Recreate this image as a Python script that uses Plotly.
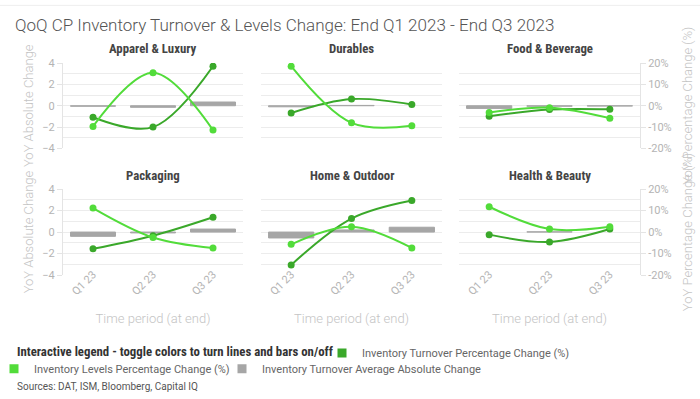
import plotly.graph_objects as go

# ---------------- data ----------------
categories = ["Q1 23", "Q2 23", "Q3 23"]
panels = ["Apparel & Luxury", "Durables", "Food & Beverage",
          "Packaging", "Home & Outdoor", "Health & Beauty"]

# Inventory Turnover Percentage Change (%), one list per panel
turnover_pct = [
    [-5.4, -10.0, 18.5],
    [-3.4, 3.1, 0.6],
    [-4.9, -1.8, -1.7],
    [-7.8, -1.7, 6.9],
    [-15.3, 6.3, 14.7],
    [-1.2, -4.6, 1.4],
]
# Inventory Levels Percentage Change (%)
levels_pct = [
    [-9.7, 15.4, -11.4],
    [18.5, -8.0, -9.4],
    [-3.2, -0.9, -5.8],
    [11.2, -2.5, -7.4],
    [-5.7, 2.5, -7.4],
    [11.8, 1.4, 2.5],
]
# Inventory Turnover Average Absolute Change
turnover_abs = [
    [-0.05, -0.15, 0.35],
    [-0.1, 0.03, None],
    [-0.25, -0.05, -0.03],
    [-0.4, -0.08, 0.28],
    [-0.55, 0.2, 0.45],
    [None, 0.02, None],
]
abs_ticks = [-4, -2, 0, 2, 4]
pct_ticks = [-20, -10, 0, 10, 20]
pct_labels = ["-20%", "-10%", "0%", "10%", "20%"]

name_turn = "Inventory Turnover Percentage Change (%)"
name_lev = "Inventory Levels Percentage Change (%)"
name_abs = "Inventory Turnover Average Absolute Change"
legend_heading = "Interactive legend - toggle colors to turn lines and bars on/off"

# ---------------- style ----------------
DARK = "#3aa82a"
BRIGHT = "#52dc3a"
GRAY = "#a6a6a6"
GRID = "#ececec"
AXIS_TXT = "#b4b4b4"
TITLE_TXT = "#c4c4c4"
FONT = "Roboto, Noto Sans, sans-serif"
NARROW = "Liberation Sans Narrow, Roboto Condensed, Roboto, sans-serif"

W, H = 700, 399
ML, MR, MT, MB = 63, 60, 62.7, 124
PW, PH = W - ML - MR, H - MT - MB


def px_x(x):
    return (x - ML) / PW


def px_y(y):
    return (H - MB - y) / PH


col_dom = [[px_x(63), px_x(243)], [px_x(261), px_x(442)], [px_x(459), px_x(640)]]
row_dom = [[px_y(148.3), px_y(62.7)], [px_y(275), px_y(189)]]

fig = go.Figure()
layout = {}

for i, name in enumerate(panels):
    r, c = divmod(i, 3)
    xa = "x" if i == 0 else f"x{i + 1}"
    yp = f"y{2 * i + 1}" if i > 0 else "y"
    ys = f"y{2 * i + 2}"

    fig.add_trace(go.Bar(
        x=categories, y=turnover_abs[i], xaxis=xa, yaxis=yp, width=0.75,
        marker=dict(color=GRAY, line=dict(color=GRAY, width=1)),
        name=name_abs, legendgroup="abs", showlegend=False,
        hovertemplate="%{x}: %{y}<extra>" + name_abs + "</extra>"))
    fig.add_trace(go.Scatter(
        x=categories, y=turnover_pct[i], xaxis=xa, yaxis=ys,
        mode="lines+markers", line=dict(color=DARK, width=2, shape="spline"),
        marker=dict(color=DARK, size=7), name=name_turn,
        legendgroup="turn", showlegend=False))
    fig.add_trace(go.Scatter(
        x=categories, y=levels_pct[i], xaxis=xa, yaxis=ys,
        mode="lines+markers", line=dict(color=BRIGHT, width=2, shape="spline"),
        marker=dict(color=BRIGHT, size=7), name=name_lev,
        legendgroup="lev", showlegend=False))

    xkey = "xaxis" if i == 0 else f"xaxis{i + 1}"
    layout[xkey] = dict(
        domain=col_dom[c], anchor=yp, type="category", range=[-0.5, 2.5],
        showgrid=False, zeroline=False, showline=False,
        showticklabels=(r == 1), tickangle=-45, ticks="",
        ticklabelstandoff=-10,
        tickfont=dict(family=FONT, size=11, color=AXIS_TXT),
        title=dict(text="Time period (at end)" if r == 1 else "",
                   font=dict(family=FONT, size=13, color=TITLE_TXT, weight=300),
                   standoff=16),
    )
    ypkey = "yaxis" if i == 0 else f"yaxis{2 * i + 1}"
    layout[ypkey] = dict(
        domain=row_dom[r], anchor=xa, range=[-4, 4], tickvals=abs_ticks,
        showticklabels=(c == 0), showgrid=True, gridcolor=GRID, gridwidth=1,
        minor=dict(dtick=1, showgrid=True, gridcolor=GRID, gridwidth=1),
        zeroline=False, showline=(c == 0), linecolor="#e4e4e4", linewidth=1,
        ticks="outside" if c == 0 else "", ticklen=5, tickcolor="#e4e4e4",
        tickfont=dict(family=FONT, size=11, color=AXIS_TXT),
        title=dict(text="YoY Absolute Change" if c == 0 else "",
                   font=dict(family=FONT, size=13, color=TITLE_TXT, weight=300),
                   standoff=5),
    )
    layout[f"yaxis{2 * i + 2}"] = dict(
        overlaying=yp, side="right", anchor=xa, range=[-20, 20],
        tickvals=pct_ticks, ticktext=pct_labels,
        showticklabels=(c == 2), showgrid=False, zeroline=False,
        showline=(c == 2), linecolor="#e4e4e4", linewidth=1,
        ticks="outside" if c == 2 else "", ticklen=5, tickcolor="#e4e4e4",
        tickfont=dict(family=FONT, size=11, color=AXIS_TXT),
        title=dict(text="YoY Percentage Change (%)" if c == 2 else "",
                   font=dict(family=FONT, size=13, color=TITLE_TXT, weight=300),
                   standoff=12),
    )

# legend-only entries (square swatches), grouped with the drawn marks
fig.add_trace(go.Scatter(x=[None], y=[None], mode="markers", name=name_turn,
                         marker=dict(symbol="square", size=9, color=DARK),
                         legendgroup="turn", legend="legend", hoverinfo="skip"))
fig.add_trace(go.Scatter(x=[None], y=[None], mode="markers", name=name_lev,
                         marker=dict(symbol="square", size=9, color=BRIGHT),
                         legendgroup="lev", legend="legend2", hoverinfo="skip"))
fig.add_trace(go.Scatter(x=[None], y=[None], mode="markers", name=name_abs,
                         marker=dict(symbol="square", size=9, color=GRAY),
                         legendgroup="abs", legend="legend3", hoverinfo="skip"))

annotations = []
for i, name in enumerate(panels):
    r, c = divmod(i, 3)
    annotations.append(dict(
        text=name, xref="paper", yref="paper",
        x=(col_dom[c][0] + col_dom[c][1]) / 2, y=px_y(48 if r == 0 else 175),
        xanchor="center", yanchor="middle", showarrow=False,
        font=dict(family=NARROW, size=12.8, color="#444444", weight=700)))
annotations.append(dict(
    text=legend_heading, xref="paper", yref="paper",
    x=px_x(15), y=px_y(352), xanchor="left", yanchor="middle", showarrow=False,
    font=dict(family=NARROW, size=12.8, color="#333333", weight=700)))
annotations.append(dict(
    text="Sources: DAT, ISM, Bloomberg, Capital IQ", xref="paper", yref="paper",
    x=px_x(15), y=px_y(387), xanchor="left", yanchor="middle", showarrow=False,
    font=dict(family=FONT, size=10, color="#555555")))

LEG_FONT = dict(family=FONT, size=11, color="#666666")


def legend_at(x_text, y_row):
    # text of a legend entry begins 40px after the legend's left edge
    return dict(orientation="h", x=px_x(x_text - 40), y=px_y(y_row),
                xanchor="left", yanchor="middle", bgcolor="rgba(0,0,0,0)",
                font=LEG_FONT, itemwidth=30)


fig.update_layout(
    width=W, height=H,
    margin=dict(l=ML, r=MR, t=MT, b=MB, autoexpand=False),
    paper_bgcolor="white", plot_bgcolor="white",
    font=dict(family=FONT, color="#555555"),
    title=dict(text="QoQ CP Inventory Turnover & Levels Change: End Q1 2023 - End Q3 2023",
               xref="container", yref="container", x=15 / W, y=1 - 25 / H,
               xanchor="left", yanchor="middle",
               font=dict(family=FONT, size=17, color="#555555", weight=300)),
    legend=legend_at(362, 353),
    legend2=legend_at(34, 369),
    legend3=legend_at(262, 369),
    annotations=annotations,
    shapes=[dict(type="line", xref="paper", yref="paper", x0=px_x(0), x1=px_x(700),
                 y0=px_y(5), y1=px_y(5), line=dict(color="#eeeeee", width=1))],
    **layout,
)

fig.write_html("out.html", config={"displayModeBar": False},
               post_script="document.body.style.margin='0px';")
